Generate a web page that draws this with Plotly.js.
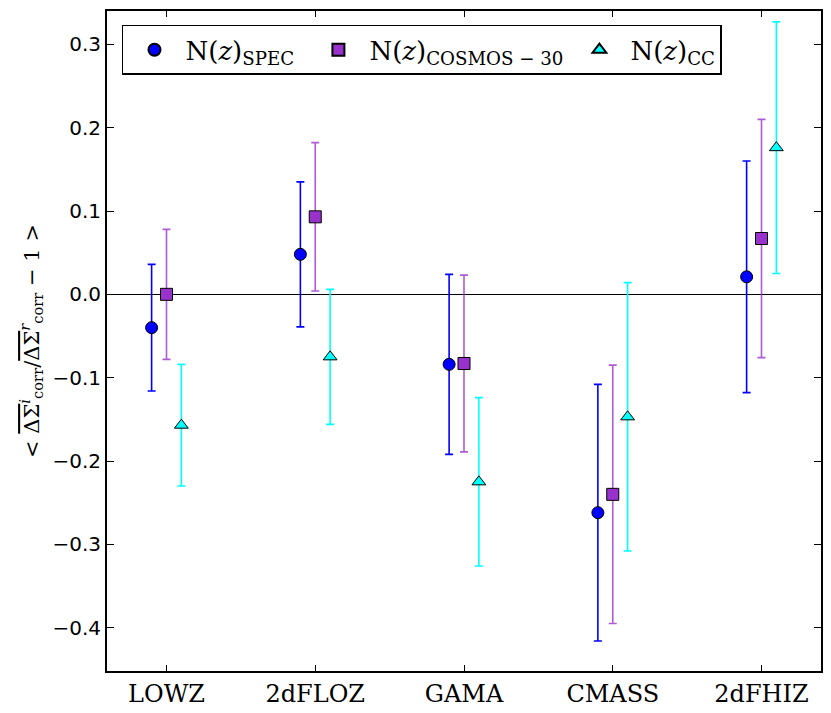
<!DOCTYPE html>
<html>
<head>
<meta charset="utf-8">
<script src="https://cdn.plot.ly/plotly-3.0.1.min.js"></script>
<style>html,body{margin:0;padding:0;background:#fff;}#chart{width:831px;height:713px;}</style>
</head>
<body>
<div id="chart"></div>
<script>
var categories = ["LOWZ", "2dFLOZ", "GAMA", "CMASS", "2dFHIZ"];
var offsets = [-0.1, 0.0, 0.1];

var specValues = [-0.040, 0.048, -0.084, -0.262, 0.021];
var specErrors = [0.076, 0.087, 0.108, 0.154, 0.139];

var cosmosValues = [0.000, 0.093, -0.083, -0.240, 0.067];
var cosmosErrors = [0.078, 0.089, 0.106, 0.155, 0.143];

var ccValues = [-0.157, -0.075, -0.225, -0.147, 0.176];
var ccErrors = [0.073, 0.081, 0.101, 0.161, 0.151];

var yTicks = [-0.4, -0.3, -0.2, -0.1, 0.0, 0.1, 0.2, 0.3];
var yTickLabels = ["\u22120.4", "\u22120.3", "\u22120.2", "\u22120.1", "0.0", "0.1", "0.2", "0.3"];

function xs(off) { return categories.map(function (c, i) { return i + off; }); }

function series(name, vals, errs, off, symbol, fill, barColor) {
  return {
    type: "scatter", mode: "markers", name: name,
    x: xs(off), y: vals,
    error_y: { type: "data", array: errs, visible: true, color: barColor, thickness: 1.6, width: 4 },
    marker: { symbol: symbol, size: 12, color: fill, line: { color: "#000", width: 1 } }
  };
}

var data = [
  series("N(<i>z</i>)<sub>SPEC</sub>\u00a0", specValues, specErrors, offsets[0], "circle", "#0000ff", "#0000ff"),
  series("N(<i>z</i>)<sub>COSMOS \u2212 30</sub>", cosmosValues, cosmosErrors, offsets[1], "square", "#9932cc", "rgba(153,50,204,0.8)"),
  series("N(<i>z</i>)<sub>CC</sub>", ccValues, ccErrors, offsets[2], "triangle-up", "#00ffff", "#00ffff")
];

var ov = '<span style="text-decoration:overline">\u0394\u03a3</span>';

var layout = {
  width: 831, height: 713,
  margin: { l: 107, r: 10, t: 11, b: 42 },
  paper_bgcolor: "#fff", plot_bgcolor: "#fff",
  showlegend: true,
  legend: {
    orientation: "h", x: 0.021, y: 0.979, xanchor: "left", yanchor: "top",
    bordercolor: "#000", borderwidth: 1.5, bgcolor: "#fff",
    font: { family: "DejaVu Serif", size: 26, color: "#000" },
    itemsizing: "constant", itemwidth: 52, tracegroupgap: 0
  },
  xaxis: {
    range: [-0.4, 4.4],
    tickmode: "array", tickvals: categories.map(function (c, i) { return i; }), ticktext: categories,
    ticks: "inside", ticklen: 6, tickwidth: 1, tickcolor: "#000",
    showline: true, linecolor: "#000", linewidth: 2, mirror: "ticks",
    showgrid: false, zeroline: false,
    tickfont: { family: "DejaVu Serif", size: 24, color: "#000" }
  },
  yaxis: {
    range: [-0.452, 0.340],
    tickmode: "array", tickvals: yTicks, ticktext: yTickLabels,
    ticks: "inside", ticklen: 7, tickwidth: 1, tickcolor: "#000",
    showline: true, linecolor: "#000", linewidth: 2, mirror: "ticks",
    showgrid: false, zeroline: true, zerolinecolor: "#000", zerolinewidth: 1.5,
    tickfont: { family: "DejaVu Sans", size: 20, color: "#000" },
    title: {
      text: "&lt; " + ov + "<sup><i>i</i></sup><sub>corr</sub>/" + ov + "<sup><i>r</i></sup><sub>corr</sub> \u2212 1 &gt;",
      font: { family: "DejaVu Serif", size: 21, color: "#000" },
      standoff: 7
    }
  }
};

Plotly.newPlot("chart", data, layout, { displayModeBar: false, staticPlot: true });
</script>
</body>
</html>
